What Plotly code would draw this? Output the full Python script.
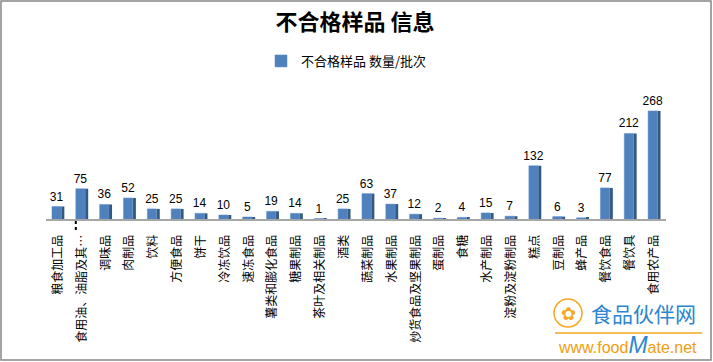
import plotly.graph_objects as go

categories = ["粮食加工品", "食用油、油脂及其…", "调味品", "肉制品", "饮料", "方便食品", "饼干",
              "冷冻饮品", "速冻食品", "薯类和膨化食品", "糖果制品", "茶叶及相关制品", "酒类",
              "蔬菜制品", "水果制品", "炒货食品及坚果制品", "蛋制品", "食糖", "水产制品",
              "淀粉及淀粉制品", "糕点", "豆制品", "蜂产品", "餐饮食品", "餐饮具", "食用农产品"]
values = [31, 75, 36, 52, 25, 25, 14, 10, 5, 19, 14, 1, 25, 63, 37, 12, 2, 4, 15, 7,
          132, 6, 3, 77, 212, 268]
series_name = "不合格样品 数量/批次"
title_text = "不合格样品 信息"

CJK = "Noto Sans CJK SC"
W, H = 713, 362
L, R, T, B = 46, 47, 98, 143

fig = go.Figure()
# side face (3D look)
fig.add_trace(go.Bar(x=categories, y=values, width=0.13, offset=0.14,
                     marker=dict(color="#34587F", line=dict(width=0)),
                     showlegend=False, hoverinfo="skip"))
# front face
fig.add_trace(go.Bar(x=categories, y=values, width=0.39, offset=-0.25, name=series_name,
                     marker=dict(color="#4F81BD", line=dict(color="#5B8CC8", width=0.5)),
                     text=[str(v) for v in values], textposition="outside", constraintext="none",
                     textfont=dict(family="Liberation Sans, Arial", size=12, color="#000000"),
                     cliponaxis=False))

pw = W - L - R
ph = H - T - B
def px2x(px):
    return (px - L) / pw
def py2y(py):
    return (H - B - py) / ph

shapes = [
    dict(type="rect", xref="paper", yref="paper", x0=px2x(1), x1=px2x(711), y0=py2y(360), y1=py2y(1),
         line=dict(color="#878787", width=1.5), fillcolor="rgba(0,0,0,0)", layer="below"),
    # dotted leader under the second category
    dict(type="line", xref="x", yref="paper", x0=0.75, x1=0.75, y0=py2y(221), y1=py2y(232),
         line=dict(color="#000000", width=2, dash="dot")),
    # watermark logo
    dict(type="circle", xref="paper", yref="paper", x0=px2x(554), x1=px2x(582), y0=py2y(327), y1=py2y(299),
         line=dict(color="#F5A623", width=1.5)),
    dict(type="line", xref="paper", yref="paper", x0=px2x(555), x1=px2x(702), y0=py2y(333), y1=py2y(333),
         line=dict(color="#F5A623", width=1.5)),
]

annotations = [
    dict(text="食品伙伴网", xref="paper", yref="paper", x=px2x(643), y=py2y(313), showarrow=False,
         font=dict(family=CJK, size=21, color="#2B86CF"), xanchor="center", yanchor="middle"),
    dict(text="✿", xref="paper", yref="paper", x=px2x(568), y=py2y(313), showarrow=False,
         font=dict(family="DejaVu Sans", size=18, color="#F5A623"), xanchor="center", yanchor="middle"),
    dict(text="www.food<span style='color:#2B86CF;font-size:23px'><i>M</i></span>ate.net",
         xref="paper", yref="paper", x=px2x(627), y=py2y(345), showarrow=False,
         font=dict(family="Liberation Sans, Arial", size=16, color="#F39C12"),
         xanchor="center", yanchor="middle"),
]

fig.update_layout(
    width=W, height=H, autosize=False,
    margin=dict(l=L, r=R, t=T, b=B, pad=0, autoexpand=False),
    paper_bgcolor="white", plot_bgcolor="white",
    barmode="overlay",
    title=dict(text="<b>" + title_text + "</b>", x=0.498, xref="container", xanchor="center",
               y=1 - 22 / H, yref="container", yanchor="middle",
               font=dict(family=CJK, size=22, color="#000000")),
    legend=dict(orientation="h", x=0.486, xanchor="center", xref="container",
                y=1 - 61 / H, yref="container", yanchor="middle", itemwidth=30,
                font=dict(family=CJK, size=13, color="#000000"), bgcolor="rgba(0,0,0,0)"),
    xaxis=dict(type="category", range=[-0.5, len(categories) - 0.5], tickangle=-90,
               showline=True, linecolor="#A6A6A6", linewidth=2, ticks="", showgrid=False,
               automargin=False,
               tickfont=dict(family=CJK, size=12, color="#000000"), ticklabelstandoff=9),
    yaxis=dict(range=[0, 300], visible=False, showgrid=False, automargin=False),
    shapes=shapes, annotations=annotations,
    showlegend=True,
)

fig.write_html("out.html", config={"displayModeBar": False},
               post_script="document.body.style.margin='0px';document.body.style.overflow='hidden';")
